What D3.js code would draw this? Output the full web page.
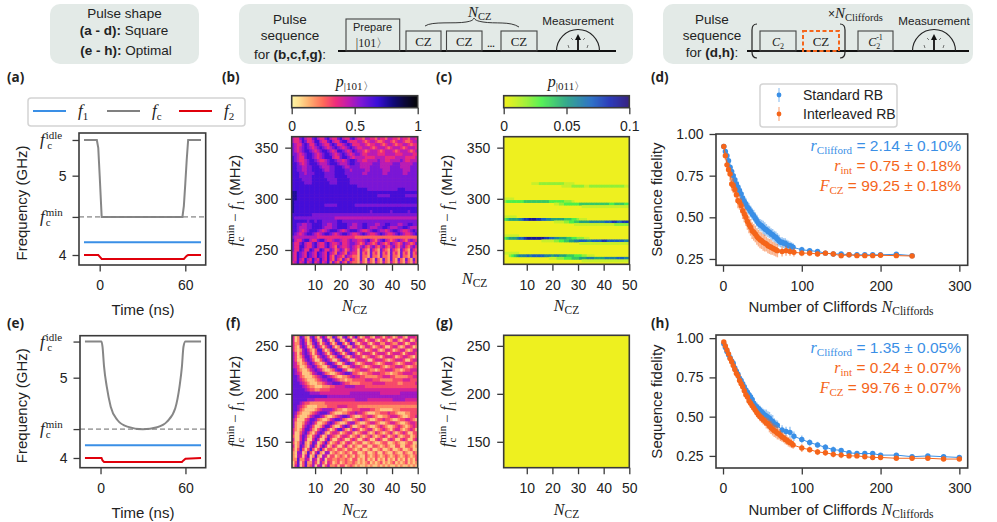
<!DOCTYPE html>
<html><head><meta charset="utf-8">
<script src="https://d3js.org/d3.v7.min.js"></script>
<style>
html,body{margin:0;padding:0;background:#fff}
svg{display:block}
text{font-family:"Liberation Sans",Arial,sans-serif;fill:#222}
</style></head><body><svg id="c" width="997" height="522"></svg>
<script>
// ---------- data ----------
const tickTime=[0,60];
const tickFreq=[4,5];
const fIdle=5.45, fMinA=4.48, fMinE=4.36, f1A=4.16, f1E=4.16;
const timeA=[-11,-2,-1,0,1.4,58,59,60,61,62,71];
const fcA=[5.45,5.45,5.35,5,4.48,4.48,4.62,4.9,5.2,5.45,5.45];
const f2A=[4,4,4,3.98,3.95,3.95,3.95,3.97,3.99,4,4];
const timeE=[-11,0.7,1.4,2.5,4.4,7.2,11.9,18.9,30,40,47,52.8,55.8,57.5,58.6,60,71];
const fcE=[5.45,5.45,5.386,5.137,4.888,4.639,4.473,4.39,4.357,4.382,4.452,4.619,4.888,5.137,5.386,5.45,5.45];
const f2E=[4,4,3.97,3.95,3.95,3.95,3.95,3.95,3.95,3.95,3.95,3.95,3.95,3.95,3.97,3.99,4];
const timeF1=[-11,71];

const tickN=[10,20,30,40,50];
const tickF_top=[250,300,350];
const tickF_bot=[150,200,250];
// digit = p_|101> x 10, one string per row, N = 1..50, top row first
const p101Top=[
"43356433564335643356433564332443324332443324332443",
"43346533466433564335664333443234432234432344322344",
"54335653356543356533456533344323344323443233443233",
"54345654345654345654345654334443234443234443234443",
"54345665434566543466543465443234443234443234443234",
"55434566543456654345654345543344443334444333444433",
"65433566543456664335665434444333344443333444433334",
"65433456654334566544345665443344445443344445433444",
"66543456665444566654445665544444555444445554444455",
"66554455666544455666544555544445555444455554444555",
"66554455666654455666655455555445555544455555444555",
"66655455566665555666655555554455555544555555445555",
"66655555666665555666665555555555555555555555555555",
"66665555666666555566666555555555555555555555555555",
"66666555666666655566666555555555555555555555555555",
"66666666666666666666666666555555555555555555555555",
"66666666666666666666666666666655555555555566655555",
"77666666666666666666666666666666666666666666666666",
"77666666666666666666666666666666665555566666655555",
"77666666666666666666666666666666666666666666666666",
"76666666666666666666666666666666666666666666666666",
"76666666666665555566666665555555555555555555555555",
"76666666666666666666666666666666666666666666666666",
"76666666666666666666666666666665666666656666665666",
"66666666555555555555555555555555555555555555555555",
"65555555555555555444444444444444444444444444444444",
"66666656656655555566555555555555555555555555555555",
"66554455666655445566665544556655544556655544556655",
"66544455666654445566665444556654445566544455665444",
"66543456665434566654345666543345665443456654334565",
"65434566543456654345665433456543345654334565433456",
"54444444443333333333333332222222222222222222222222",
"64335664335664334554334544334564324564323454324543",
"53356433564335643345334554323543235432354323543235",
"53366433564335643254334543245324532453245324532453",
"53365336533653354235423543153215321532153215321532",
"43654365436543643254325433152315231523152315231523",
"43654365436543632543254322152215221522152215221522",
"43643643643643632532532532152152152152152152152152",
"34634634634634625325325322142142142142142142142142"];
const p101Bot=[
"41265215631464126521563146312442144313431244214443",
"41256313652156412652146412443134421343124421344124",
"42256412564135631366313652134421344224432244312443",
"42146521365313563125641254312443123431134421244312",
"42125642136631256421465312443123442124431234421244",
"53135653135653135653135653134443134443134443134443",
"53124664213565312466421354431234432134443123443213",
"53113565311356531135653113444311344432123444311344",
"54212356532124665311356542123444321234443212344432",
"54311245653211356643112454432123444321233444321233",
"65321124565421123566431123344432212334443221233444",
"65431112456653211234566533212233444332212233444433",
"66532111234566543211223454433222223344433222223344",
"66543211123455665432212233333444333222223333444333",
"66654321112234556665433222233333444443333322333334",
"66665432211122233444455554444333333333333333333333",
"66666543322333344444444444444444444444444444444444",
"66666665555444444444444555555555555444444445555555",
"66666666666666555555555555555555555555555555555555",
"66666655544444444444444445555544444444445555544444",
"66654332222223333333333333333333333333333333333333",
"66543211112222333344443333222222222222222222222222",
"66532111123455554322112233344443322111112223333333",
"65321112345666532111223445443211122333433211122333",
"64211124566542112345665321123344321122344432112334",
"53111346653211245665321123454321123343321123344321",
"52112456531123565321124553211234432112344321123443",
"52113565311246642113565311234321123432112343212343",
"42124664213565312466421354312344212343213442123431",
"41135642135652134431234421234421243212342123431133",
"31146521356312543213443123421234212343123421233123",
"41146411464114631134311343113431134311343113431134",
"31256213651246312342134312331123211233112321123311",
"41265215631464124311342132113311332123211331133212",
"31363136313631332133213321231123112311231123112311",
"21551263146215512321232133112311231132113211321132",
"21541461262154133123213213211321232123212321232123",
"22622541541451332232232133121312131213121312131213",
"13613622531531431231232232121231212312123121231212",
"14613623514513522313312321211212112121211212112121"];
// sparse rows of p_|011>: row frequency (MHz) and digit = p x 100 for N = 1..50
const p011Freq=[315,312.5,300,297.5,295,292.5,282.5,280,277.5,275,264,261.5,259,256.5,247,244.5,242,239.5];
const p011Rows=[
"00000000000111222222222211110000000000000000000000",
"00000000000000000000000111122222112222222222222211",
"11110000000000000000000000000000000000000000000000",
"23333333444444444433333322210000000000000000000000",
"00000000000000000000112233333344444444444433444433",
"00000000000000000000000000000001111111111111111111",
"11111000000000000000000000000000000000000000000000",
"34555567889998877665555544433211100000000000000000",
"00000000000000000000111122334455556666667778877888",
"00000000000000000000000000001111111111111111222222",
"11111100000000000000000000000000000000000000000000",
"34555677899999998877665554433222110000000000000000",
"00000000000000011111223344556677766777788777777766",
"00000000000000000000000000000011111111111111111111",
"11111100000000000000000000000000000000000000000000",
"00234566676777776665665554443332211100000000000000",
"00000000000000000011122233344455566655556666677766",
"00000000000000000000000000000001111111111111111111"];
const p011Background=0.001;
const p011BottomBackground=0.001;
const cbarTicks101=[0,0.5,1], cbarTicks011=[0,0.05,0.1];

const tickCliff=[0,100,200,300];
const tickFid=[0.25,0.5,0.75,1];
const xStdD=[1,3,5,7,9,11,13,15,17,19,21,23,25,27,29,31,33,35,37,39,41,43,45,47,49,51,53,55,57,59,61,63,65,67,69,71,73,75,77,79,81,83,85,87,89,100,110,120,130,140,150,160,170,180,190,200,220,240];
const yStdD=[.925,.895,.87,.84,.80,.775,.75,.725,.70,.68,.66,.64,.615,.595,.58,.56,.55,.535,.52,.51,.495,.48,.465,.455,.45,.44,.43,.425,.415,.41,.40,.395,.385,.38,.37,.36,.35,.35,.345,.345,.335,.33,.33,.325,.32,.305,.30,.295,.285,.28,.28,.275,.275,.275,.275,.275,.278,.27];
const eStdD=[.01,.015,.02,.02,.025,.03,.03,.035,.035,.035,.035,.035,.035,.035,.035,.035,.035,.035,.035,.035,.035,.035,.035,.035,.035,.04,.04,.035,.035,.035,.035,.035,.035,.035,.035,.035,.03,.03,.03,.03,.03,.03,.025,.025,.025,.018,.012,.012,.012,.012,.012,.01,.01,.01,.01,.01,.01,.01];
const xIntD=[1,3,5,7,9,11,13,15,17,19,21,23,25,27,29,31,33,35,37,39,41,43,45,47,49,51,53,55,57,59,61,63,65,67,69,75,80,85,90,100,110,120,130,140,150,160,170,180,190,200,220,240];
const yIntD=[.925,.87,.815,.785,.76,.70,.69,.665,.635,.60,.59,.57,.54,.52,.50,.475,.455,.44,.42,.41,.40,.385,.375,.365,.36,.35,.345,.34,.33,.325,.32,.315,.31,.305,.30,.295,.30,.295,.29,.285,.285,.28,.285,.28,.27,.275,.27,.27,.27,.272,.27,.268];
const eIntD=[.01,.025,.03,.035,.04,.04,.045,.045,.045,.045,.045,.045,.05,.05,.05,.05,.05,.05,.05,.05,.05,.05,.05,.05,.05,.05,.05,.045,.045,.045,.045,.04,.04,.04,.04,.03,.03,.025,.025,.018,.018,.015,.015,.015,.015,.012,.012,.012,.012,.012,.012,.012];
const xStdH=[1,3,5,7,9,11,13,15,17,19,21,23,25,27,29,31,33,35,37,39,41,43,45,47,49,51,53,55,57,59,61,63,65,67,69,75,80,85,90,100,110,120,130,140,150,160,170,180,190,200,220,240,260,280,300];
const yStdH=[.965,.94,.915,.895,.875,.855,.84,.81,.79,.77,.745,.73,.71,.69,.67,.655,.64,.625,.61,.585,.57,.56,.55,.54,.53,.52,.51,.505,.495,.49,.475,.47,.455,.45,.445,.415,.405,.40,.375,.355,.335,.32,.305,.29,.285,.27,.265,.265,.265,.255,.255,.245,.25,.245,.24];
const eStdH=[.008,.01,.01,.012,.015,.015,.02,.02,.02,.02,.02,.02,.02,.02,.02,.025,.025,.025,.03,.03,.03,.03,.03,.03,.03,.03,.035,.04,.04,.04,.04,.04,.035,.03,.03,.03,.03,.035,.03,.025,.02,.02,.02,.02,.015,.015,.012,.012,.012,.012,.012,.01,.01,.012,.012];
const xIntH=[1,3,5,7,9,11,13,15,17,19,21,23,25,27,29,31,33,35,37,39,41,43,45,47,49,51,53,55,57,59,61,63,65,67,69,71,73,75,77,79,81,83,85,87,89,100,110,120,130,140,150,160,170,180,190,200,220,240,260,280,300];
const yIntH=[.975,.95,.925,.90,.87,.85,.825,.80,.775,.76,.73,.71,.69,.665,.64,.625,.60,.585,.57,.555,.54,.525,.51,.50,.49,.48,.47,.46,.455,.44,.43,.42,.41,.405,.395,.39,.38,.37,.365,.355,.35,.34,.335,.33,.32,.30,.29,.275,.27,.26,.255,.25,.25,.245,.24,.24,.235,.235,.235,.23,.23];
const eIntH=[.006,.008,.008,.01,.012,.012,.015,.015,.015,.02,.02,.02,.02,.02,.02,.02,.02,.025,.025,.025,.025,.025,.025,.03,.03,.03,.03,.035,.035,.04,.04,.04,.04,.04,.04,.035,.035,.03,.03,.03,.03,.03,.03,.03,.025,.025,.02,.02,.02,.02,.02,.015,.015,.012,.012,.012,.012,.012,.012,.012,.012];
const annotD=["2.14 ± 0.10%","0.75 ± 0.18%","99.25 ± 0.18%"];
const annotH=["1.35 ± 0.05%","0.24 ± 0.07%","99.76 ± 0.07%"];

// ---------- helpers ----------
const svg=d3.select("#c");
const BLUE="#3a8fe6",ORANGE="#f5651a",GRAY="#808080",RED="#e0000b",INK="#222",SPINE="#3a3a3a";
const SERIF='"Liberation Serif","Times New Roman",serif', SANS='"Liberation Sans",Arial,sans-serif';
const stops101=[0,.06,.14,.25,.35,.45,.55,.68,.8,.9,1];
const cols101=["#fdf6a4","#ffdf90","#ffb070","#ff6a5a","#ef2c7c","#c01cb0","#7f18d6","#3a10d8","#120a80","#0c0838","#050505"];
const color101=d3.scaleLinear().domain(stops101).range(cols101).clamp(true);
const stops011=[0,.01,.02,.03,.05,.07,.085,.1];
const cols011=["#f2f01e","#c8f02a","#90f038","#4cf04c","#20a080","#1560c0","#1020b0","#1e0670"];
const color011=d3.scaleLinear().domain(stops011).range(cols011).clamp(true);

const defs=svg.append("defs");
defs.append("filter").attr("id","soft").attr("x","-5%").attr("y","-5%").attr("width","110%").attr("height","110%")
  .append("feGaussianBlur").attr("stdDeviation",0.42);

function T(parent,x,y,parts,o={}){
  const t=parent.append("text").attr("x",x).attr("y",y).attr("text-anchor",o.anchor||"start");
  if(o.rot!=null)t.attr("transform",`rotate(${o.rot} ${x} ${y})`);
  let b=0;
  (Array.isArray(parts)?parts:[parts]).forEach(p=>{
    if(typeof p==="string")p={t:p};
    const s=t.append("tspan").text(p.t).attr("font-size",p.s||o.size||14)
      .style("font-family",p.f==="i"||p.f==="r"?SERIF:(o.family||SANS))
      .style("font-style",p.f==="i"?"italic":"normal")
      .style("font-weight",p.w||o.weight||"normal")
      .style("fill",p.fill||o.fill||INK);
    const nb=p.b||0; if(nb!==b)s.attr("dy",nb-b); b=nb;
    if(p.dx)s.attr("dx",p.dx);
    s.attr("xml:space","preserve");
  });
  return t;
}
function styleAxis(g){
  g.select(".domain").remove();
  g.selectAll("line").attr("stroke",SPINE).attr("stroke-width",1.3);
  g.selectAll("text").attr("font-size",14).style("fill",INK);
}
function frame(g,x0,y0,w,h){g.append("rect").attr("x",x0).attr("y",y0).attr("width",w).attr("height",h).attr("fill","none").attr("stroke",SPINE).attr("stroke-width",1.6);}
const fcLabel=(g,x,y,sup,w)=>T(g,x,y+5,[{t:"f",f:"i",s:17},{t:sup,f:"r",s:11,b:-6,dx:1},{t:"c",f:"r",s:11,b:4,dx:-w}]);

// ---------- header ----------
const boxes=[[50,149],[239,394],[663,310]];
boxes.forEach(b=>svg.append("rect").attr("x",b[0]).attr("y",4).attr("width",b[1]).attr("height",60).attr("rx",10).attr("fill","#e3eae7"));
const hs=13.5;
T(svg,124.5,18,"Pulse shape",{anchor:"middle",size:hs});
T(svg,124,35,[{t:"(a - d):",w:"bold"},{t:" Square"}],{anchor:"middle",size:hs});
T(svg,126,55,[{t:"(e - h):",w:"bold"},{t:" Optimal"}],{anchor:"middle",size:hs});
T(svg,290,24,"Pulse",{anchor:"middle",size:hs});
T(svg,290,40,"sequence",{anchor:"middle",size:hs});
T(svg,290,59,[{t:"for "},{t:"(b,c,f,g)",w:"bold"},{t:":"}],{anchor:"middle",size:hs});
T(svg,712,24,"Pulse",{anchor:"middle",size:hs});
T(svg,712,40,"sequence",{anchor:"middle",size:hs});
T(svg,712,57,[{t:"for "},{t:"(d,h)",w:"bold"},{t:":"}],{anchor:"middle",size:hs});
function wire(x0,x1){svg.append("line").attr("x1",x0).attr("x2",x1).attr("y1",51).attr("y2",51).attr("stroke","#111").attr("stroke-width",1.8);}
function box(x0,x1,y0,stroke,dash){const r=svg.append("rect").attr("x",x0).attr("y",y0).attr("width",x1-x0).attr("height",51-y0).attr("fill","none").attr("stroke",stroke||"#444").attr("stroke-width",stroke?2:1.1);if(dash)r.attr("stroke-dasharray",dash);}
function dial(cx){
  svg.append("path").attr("d",`M${cx-21.5},51 A21.5,21.5 0 0 1 ${cx+21.5},51`).attr("fill","none").attr("stroke","#222").attr("stroke-width",1.1);
  svg.append("line").attr("x1",cx).attr("x2",cx).attr("y1",50).attr("y2",38).attr("stroke","#111").attr("stroke-width",1.8);
  svg.append("path").attr("d",`M${cx-3},40 L${cx},34 L${cx+3},40Z`).attr("fill","#111");
  [[-9,-3,-10,-6],[-7,-13,-5,-11],[5,-11,7,-13],[9,-3,10,-6]].forEach(s=>svg.append("line").attr("x1",cx+s[0]).attr("y1",51+s[1]).attr("x2",cx+s[2]).attr("y2",51+s[3]).attr("stroke","#555").attr("stroke-width",.8));
  T(svg,cx,25,"Measurement",{anchor:"middle",size:11.7});
}
wire(338,616);wire(747,969);
box(346,399.7,19);T(svg,372.5,31,"Prepare",{anchor:"middle",size:11});
T(svg,372,47,[{t:"|101〉",f:"r",s:12}],{anchor:"middle"});
[[406,441],[446.5,482],[501,537]].forEach(b=>{box(b[0],b[1],31);T(svg,(b[0]+b[1])/2,46,[{t:"CZ",f:"r",s:13}],{anchor:"middle"});});
T(svg,491,47,"...",{anchor:"middle",size:9,weight:"bold"});
svg.append("path").attr("d","M425,26 C432,21 455,24 466,22 C472,21 473,20 474,18 C475,20 477,21 483,22 C495,24 510,21 519,27").attr("fill","none").attr("stroke","#222").attr("stroke-width",.9);
T(svg,468,17,[{t:"N",f:"i",s:15},{t:"CZ",f:"r",s:10.5,b:3}]);
dial(578);dial(934);
box(760,796,31);T(svg,778,46,[{t:"C",f:"i",s:12},{t:"2",f:"r",s:8,b:3}],{anchor:"middle"});
box(803,839,31,ORANGE,"4 2.5");T(svg,821,46,[{t:"CZ",f:"r",s:13}],{anchor:"middle"});
box(858,893,31);T(svg,875.5,46,[{t:"C",f:"i",s:12},{t:"2",f:"r",s:8,b:3},{t:"-1",f:"r",s:8,b:-6,dx:-4}],{anchor:"middle"});
svg.append("path").attr("d","M757,24 C753,24 752,27 752,30 L752,52 C752,56 753,58 757,58").attr("fill","none").attr("stroke","#222").attr("stroke-width",1.2);
svg.append("path").attr("d","M840,24 C844,24 845,27 845,30 L845,52 C845,56 844,58 840,58").attr("fill","none").attr("stroke","#222").attr("stroke-width",1.2);
T(svg,828,18,[{t:"×",s:12},{t:"N",f:"i",s:15},{t:"Cliffords",f:"r",s:10.5,b:3}]);

// panel letters
[["(a)",7,82],["(b)",222,82],["(c)",436,82],["(d)",651,82],["(e)",7,328],["(f)",226,328],["(g)",436,328],["(h)",651,328]].forEach(l=>
  T(svg,l[1],l[2],l[0],{size:13.5,weight:"bold",family:'"Open Sans",sans-serif'}));

// ---------- frequency panels ----------
function freqPanel(L,T0,B,dom,time,fc,f2,fMin,f1,smooth){
  const g=svg.append("g");
  const x=d3.scaleLinear().domain([-14.5,74.3]).range([L,205.7]);
  const y=d3.scaleLinear().domain(dom).range([B,T0]);
  g.append("g").attr("transform",`translate(0,${B})`).call(d3.axisBottom(x).tickValues(tickTime).tickSize(6.5).tickPadding(9)).call(styleAxis);
  g.append("g").attr("transform",`translate(${L},0)`).call(d3.axisLeft(y).tickValues(tickFreq.concat([fIdle,fMin])).tickSize(6.5).tickPadding(6)
    .tickFormat(v=>(v===fIdle||v===fMin)?"":d3.format("d")(v))).call(styleAxis);
  const ln=d3.line().x(d=>x(d[0])).y(d=>y(d[1]));
  const lnS=d3.line().x(d=>x(d[0])).y(d=>y(d[1])).curve(smooth?d3.curveMonotoneX:d3.curveLinear);
  g.append("line").attr("x1",x.range()[0]).attr("x2",x.range()[1]).attr("y1",y(fMin)).attr("y2",y(fMin)).attr("stroke","#666").attr("stroke-width",1).attr("stroke-dasharray","5 3");
  g.append("path").attr("d",ln(timeF1.map(t=>[t,f1]))).attr("fill","none").attr("stroke",BLUE).attr("stroke-width",2);
  g.append("path").attr("d",lnS(time.map((t,i)=>[t,fc[i]]))).attr("fill","none").attr("stroke",GRAY).attr("stroke-width",2).attr("opacity",.95);
  g.append("path").attr("d",ln(time.map((t,i)=>[t,f2[i]]))).attr("fill","none").attr("stroke",RED).attr("stroke-width",2);
  frame(g,L,T0,205.7-L,B-T0);
  fcLabel(g,40,y(fIdle),"idle",15); fcLabel(g,40,y(fMin),"min",17);
  T(g,27,(T0+B)/2+4,"Frequency (GHz)",{anchor:"middle",size:15,rot:-90});
  T(g,143,B+50,"Time (ns)",{anchor:"middle",size:15});
}
freqPanel(79,133,265,[3.874,5.538],timeA,fcA,f2A,fMinA,f1A,false);
freqPanel(80,335.7,467.7,[3.879,5.523],timeE,fcE,f2E,fMinE,f1E,true);
// legend a
const lg=svg.append("g");
lg.append("rect").attr("x",28).attr("y",98).attr("width",217).attr("height",28).attr("rx",3).attr("fill","#fff").attr("stroke","#d4d4d4").attr("stroke-width",1.5);
[[33,BLUE,"1"],[107,GRAY,"c"],[179,RED,"2"]].forEach(d=>{
  lg.append("line").attr("x1",d[0]).attr("x2",d[0]+33).attr("y1",111).attr("y2",111).attr("stroke",d[1]).attr("stroke-width",2);
  T(lg,d[0]+45,116,[{t:"f",f:"i",s:17},{t:d[2],f:"r",s:11,b:4}]);
});

// ---------- heatmaps ----------
const Ns=d3.range(1,51);
let clipId=0;
function softLayer(g,L,R,Tp,B,backing){
  const id="cl"+(clipId++);
  defs.append("clipPath").attr("id",id).append("rect").attr("x",L).attr("y",Tp).attr("width",R-L).attr("height",B-Tp);
  const c=g.append("g").attr("clip-path",`url(#${id})`);
  c.append("rect").attr("x",L).attr("y",Tp).attr("width",R-L).attr("height",B-Tp).attr("fill",backing);
  return c.append("g").attr("filter","url(#soft)");
}
function axesHeat(g,L,R,Tp,B,x,y,yt){
  g.append("g").attr("transform",`translate(0,${B})`).call(d3.axisBottom(x).tickValues(tickN).tickSize(6.5).tickPadding(9)).call(styleAxis);
  g.append("g").attr("transform",`translate(${L},0)`).call(d3.axisLeft(y).tickValues(yt).tickSize(6.5).tickPadding(7)).call(styleAxis);
  frame(g,L,Tp,R-L,B-Tp);
  T(g,(L+R)/2,B+47,[{t:"N",f:"i",s:16},{t:"CZ",f:"r",s:11.5,b:3}],{anchor:"middle"});
  T(g,L-52,(Tp+B)/2,[{t:"f",f:"i",s:16},{t:"min",f:"r",s:11,b:-6},{t:"c",f:"r",s:11,b:4,dx:-17},{t:" − ",f:"r",s:15,dx:11},{t:"f",f:"i",s:16},{t:"1",f:"r",s:11,b:4},{t:" (MHz)",s:15}],{anchor:"middle",rot:-90});
}
function gridPanel(L,R,Tp,B,fDom,rows,yt,shift){
  const g=svg.append("g");
  const x=d3.scaleLinear().domain([1,50]).range([L,R]);
  const y=d3.scaleLinear().domain(fDom).range([B,Tp]);
  const colB=d3.scaleBand().domain(Ns).range([L,R]);
  const rowB=d3.scaleBand().domain(d3.range(rows.length)).range([Tp,B]);
  const layer=softLayer(g,L,R,Tp,B,color101(.42));
  rows.forEach((row,r)=>{
    layer.selectAll(null).data(row.split("").map(Number)).join("rect")
     .attr("x",(d,i)=>colB(i+1)).attr("y",rowB(r)).attr("width",colB.bandwidth()+.4).attr("height",rowB.bandwidth()+.4)
     .attr("fill",d=>color101((d+shift)/10));
  });
  axesHeat(g,L,R,Tp,B,x,y,yt);
}
gridPanel(291.7,417.7,136.7,264.3,[236,360.7],p101Top,tickF_top,0.6);
gridPanel(292,417.7,335.3,467.7,[123,261],p101Bot,tickF_bot,0);
function sparsePanel(L,R,Tp,B,fDom,yt,bg,freq,rows){
  const g=svg.append("g");
  const x=d3.scaleLinear().domain([1,50]).range([L,R]);
  const y=d3.scaleLinear().domain(fDom).range([B,Tp]);
  const colB=d3.scaleBand().domain(Ns).range([L,R]);
  const layer=softLayer(g,L,R,Tp,B,color011(bg));
  freq.forEach((f,r)=>{
    layer.selectAll(null).data(rows[r].split("").map(Number)).join("rect")
     .attr("x",(d,i)=>colB(i+1)).attr("y",y(f+1.25)).attr("width",colB.bandwidth()+.4).attr("height",y(f-1.25)-y(f+1.25)+.3)
     .attr("fill",d=>color011(d/100)).attr("opacity",d=>d===0?0:1);
  });
  axesHeat(g,L,R,Tp,B,x,y,yt);
}
sparsePanel(503.7,629.3,136.7,264.3,[236,360.7],tickF_top,p011Background,p011Freq,p011Rows);
sparsePanel(503.7,629.3,335.3,467.7,[123,261],tickF_bot,p011BottomBackground,[],[]);
T(svg,462,284,[{t:"N",f:"i",s:16},{t:"CZ",f:"r",s:11.5,b:3}]);

// colourbars
function cbar(L,R,scale,dom,ticks,fmt,sub){
  const g=svg.append("g");
  const x=d3.scaleLinear().domain(dom).range([L,R]);
  const band=d3.scaleBand().domain(d3.range(126)).range([L,R]);
  g.selectAll(null).data(d3.range(126)).join("rect").attr("x",d=>band(d)).attr("y",95.7).attr("width",band.bandwidth()+.3).attr("height",12)
    .attr("fill",d=>scale(dom[0]+(dom[1]-dom[0])*(d+.5)/126));
  g.append("g").attr("transform","translate(0,107.7)").call(d3.axisBottom(x).tickValues(ticks).tickSize(6.5).tickPadding(7).tickFormat(fmt)).call(styleAxis);
  frame(g,L,95.7,R-L,12);
  T(g,(L+R)/2,87,[{t:"p",f:"i",s:16},{t:sub,f:"r",s:11,b:3}],{anchor:"middle"});
}
cbar(291.7,417.7,color101,[0,1],cbarTicks101,d=>String(d),"|101〉");
cbar(503.7,629.3,color011,[0,.1],cbarTicks011,d=>String(d),"|011〉");

// ---------- RB panels ----------
function rbPanel(Tp,B,yDom,sets,ann,base){
  const g=svg.append("g");
  const L=716,R=967.7;
  const x=d3.scaleLinear().domain([-8.9,310.6]).range([L,R]);
  const y=d3.scaleLinear().domain(yDom).range([B,Tp]);
  g.append("g").attr("transform",`translate(0,${B})`).call(d3.axisBottom(x).tickValues(tickCliff).tickSize(6.5).tickPadding(9)).call(styleAxis);
  g.append("g").attr("transform",`translate(${L},0)`).call(d3.axisLeft(y).tickValues(tickFid).tickSize(6.5).tickPadding(6).tickFormat(d3.format(".2f"))).call(styleAxis);
  sets.forEach(s=>{
    const pts=s.x.map((v,i)=>({x:v,y:s.y[i],e:s.e[i]}));
    g.append("path").attr("d",d3.line().x(d=>x(d.x)).y(d=>y(d.y))(pts)).attr("fill","none").attr("stroke",s.c).attr("stroke-width",1);
    g.selectAll(null).data(pts).join("line").attr("x1",d=>x(d.x)).attr("x2",d=>x(d.x)).attr("y1",d=>y(d.y-d.e)).attr("y2",d=>y(d.y+d.e)).attr("stroke",s.c).attr("stroke-width",1.5).attr("opacity",.5);
    g.selectAll(null).data(pts).join("circle").attr("cx",d=>x(d.x)).attr("cy",d=>y(d.y)).attr("r",2.7).attr("fill",s.c);
  });
  frame(g,L,Tp,R-L,B-Tp);
  T(g,961,base,[{t:"r",f:"i",s:16,fill:BLUE},{t:"Clifford",f:"r",s:11,b:3,fill:BLUE},{t:" = "+ann[0],fill:BLUE}],{anchor:"end",size:15.5});
  T(g,961,base+20,[{t:"r",f:"i",s:16,fill:ORANGE},{t:"int",f:"r",s:11,b:3,fill:ORANGE},{t:" = "+ann[1],fill:ORANGE}],{anchor:"end",size:15.5});
  T(g,961,base+40,[{t:"F",f:"i",s:16,fill:ORANGE},{t:"CZ",f:"r",s:11,b:3,fill:ORANGE},{t:" = "+ann[2],fill:ORANGE}],{anchor:"end",size:15.5});
  T(g,662,(Tp+B)/2,"Sequence fidelity",{anchor:"middle",size:15,rot:-90});
  T(g,841,B+47,[{t:"Number of Cliffords "},{t:"N",f:"i",s:16},{t:"Cliffords",f:"r",s:11.5,b:3}],{anchor:"middle",size:15});
}
rbPanel(134,265.3,[.212,1.0],[{x:xStdD,y:yStdD,e:eStdD,c:BLUE},{x:xIntD,y:yIntD,e:eIntD,c:ORANGE}],annotD,151);
rbPanel(335,468,[.173,1.02],[{x:xStdH,y:yStdH,e:eStdH,c:BLUE},{x:xIntH,y:yIntH,e:eIntH,c:ORANGE}],annotH,353);
// legend d
const ld=svg.append("g");
ld.append("rect").attr("x",760).attr("y",84).attr("width",137).attr("height",43).attr("rx",3).attr("fill","#fff").attr("stroke","#d4d4d4").attr("stroke-width",1.5);
[[95,BLUE,"Standard RB"],[114,ORANGE,"Interleaved RB"]].forEach(d=>{
  ld.append("line").attr("x1",779).attr("x2",779).attr("y1",d[0]-7).attr("y2",d[0]+7).attr("stroke",d[1]).attr("stroke-width",1.3).attr("opacity",.5);
  ld.append("circle").attr("cx",779).attr("cy",d[0]).attr("r",2.4).attr("fill",d[1]);
  T(ld,803,d[0]+5,d[2],{size:14});
});
</script></body></html>
